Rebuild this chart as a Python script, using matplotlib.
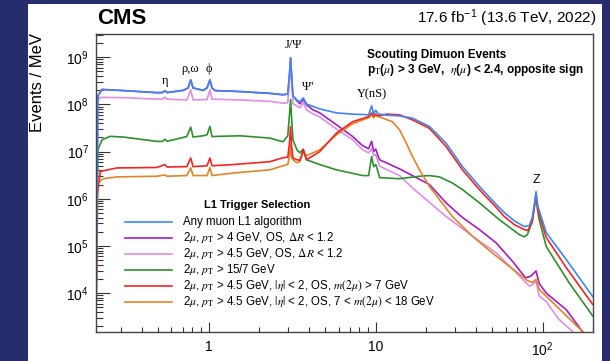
import numpy as np
import matplotlib.pyplot as plt
from matplotlib.patches import Rectangle
from matplotlib.ticker import LogLocator, NullFormatter, FixedLocator, FixedFormatter

plt.rcParams['font.family'] = ['Liberation Sans', 'DejaVu Sans']
plt.rcParams['mathtext.fontset'] = 'stix'

# dimuon mass (GeV) and events / MeV
# any muon L1 algorithm
mass_any = [0.2113, 0.2175, 0.230, 0.309, 0.491, 0.528, 0.548, 0.565, 0.704, 0.755,
            0.782, 0.808, 0.927, 0.979, 1.019, 1.049, 1.093, 1.54, 2.33, 2.79,
            2.98, 3.05, 3.097, 3.14, 3.20, 3.38, 3.52, 3.686, 3.86, 4.63,
            5.83, 7.29, 8.36, 9.08, 9.46, 9.73, 10.02, 10.35, 11.6, 13.9,
            16.6, 21.0, 26.4, 33.1, 41.8, 52.8, 58.9, 67.6, 77.5, 83.1,
            86.6, 89.0, 91.2, 93.5, 95.3, 105, 138, 199]
ev_any = [1e3, 1.51e8, 2.07e8, 1.96e8, 1.77e8, 1.78e8, 1.93e8, 1.78e8, 1.98e8, 2.23e8,
          3.3e8, 2.23e8, 1.98e8, 2.23e8, 3.3e8, 2.23e8, 1.96e8, 1.87e8, 1.71e8, 1.6e8,
          1.65e8, 4.2e8, 9.6e8, 4.2e8, 1.5e8, 1.24e8, 1.13e8, 1.37e8, 1.02e8, 8.0e7,
          6.6e7, 6.2e7, 6.1e7, 6.0e7, 9.3e7, 6.3e7, 7.5e7, 6.3e7, 5.9e7, 5.7e7,
          5.1e7, 3.4e7, 1.51e7, 4.8e6, 1.83e6, 7.5e5, 5.1e5, 3.4e5, 2.57e5, 2.7e5,
          4.0e5, 7.5e5, 1.41e6, 7.0e5, 5.6e5, 1.92e5, 5.2e4, 8.5e3]

# 2mu pT>4, OS, dR<1.2 (same as "any" below 3.2 GeV)
mass_os4 = mass_any[:25] + [3.38, 3.52, 3.686, 3.86, 4.21, 4.63, 5.83, 7.29, 8.36, 9.08,
                            9.46, 9.73, 10.02, 10.35, 10.56, 13.9, 16.6, 21.0, 26.4, 33.1,
                            41.8, 52.8, 66.0, 79.0, 85.0, 91.2, 95.3, 105, 138, 172, 199]
ev_os4 = ev_any[:25] + [1.19e8, 1.03e8, 1.27e8, 9.8e7, 7.7e7, 6.6e7, 3.7e7, 2.08e7, 1.33e7, 1.15e7,
                        1.65e7, 1.0e7, 1.13e7, 7.9e6, 6.7e6, 4.3e6, 3.1e6, 2.0e6, 8.2e5, 4.0e5,
                        2.22e5, 1.15e5, 4.7e4, 2.1e4, 2.3e4, 2.94e4, 1.6e4, 1.0e4, 4.5e3, 1.57e3, 8.6e2]

# 2mu pT>4.5, OS, dR<1.2
mass_os45 = [0.2113, 0.2175, 0.225, 0.309, 0.491, 0.528, 0.548, 0.565, 0.741, 0.782,
             0.808, 0.979, 1.019, 1.049, 1.54, 2.33, 2.79, 2.98, 3.05, 3.097,
             3.14, 3.20, 3.38, 3.52, 3.686, 3.86, 4.21, 4.63, 5.83, 7.29,
             8.36, 9.08, 9.46, 9.73, 10.02, 10.56, 13.9, 16.6, 26.4, 41.8,
             52.8, 68.0, 83.1, 86.6, 91.2, 95.3, 105, 125, 150, 199]
ev_os45 = [1e3, 1.19e8, 1.41e8, 1.39e8, 1.29e8, 1.29e8, 1.42e8, 1.29e8, 1.24e8, 2.02e8,
           1.24e8, 1.27e8, 2.02e8, 1.29e8, 1.24e8, 1.16e8, 1.06e8, 1.08e8, 3.3e8, 7.9e8,
           3.3e8, 1.03e8, 9.3e7, 8.4e7, 1.09e8, 7.7e7, 6.3e7, 5.4e7, 3.0e7, 1.78e7,
           1.09e7, 9.4e6, 1.15e7, 8.2e6, 8.6e6, 4.9e6, 3.1e6, 1.7e6, 4.2e5, 1.26e5,
           7.1e4, 2.9e4, 1.41e4, 1.5e4, 1.8e4, 8.7e3, 6.6e3, 2.77e3, 1.57e3, 5e2]

# 2mu pT>15/7
mass_157 = [0.2113, 0.2175, 0.2304, 0.258, 0.309, 0.491, 0.528, 0.548, 0.565, 0.741,
            0.782, 0.808, 0.927, 0.979, 1.019, 1.049, 1.54, 2.33, 2.79, 2.98,
            3.05, 3.097, 3.14, 3.20, 3.38, 3.52, 3.686, 3.86, 4.63, 5.83,
            8.36, 9.08, 9.46, 9.73, 10.02, 10.35, 10.56, 13.9, 18.3, 21.0,
            24.1, 28.8, 33.1, 41.8, 55.0, 72.4, 77.5, 81.0, 86.6, 89.0,
            91.2, 93.5, 95.3, 105, 144, 199]
ev_157 = [1e3, 1.09e7, 1.78e7, 2.1e7, 2.03e7, 1.64e7, 1.64e7, 1.82e7, 1.65e7, 2.08e7,
          3.3e7, 2.03e7, 2.16e7, 2.26e7, 3.4e7, 2.08e7, 2.16e7, 1.93e7, 1.61e7, 2.16e7,
          6.0e7, 1.27e8, 5.2e7, 1.78e7, 1.09e7, 9.4e6, 1.13e7, 6.7e6, 5.3e6, 4.1e6,
          3.1e6, 3.1e6, 7.8e6, 4.8e6, 5.3e6, 3.7e6, 2.8e6, 2.66e6, 3.0e6, 3.1e6,
          2.9e6, 2.16e6, 1.56e6, 8.2e5, 3.6e5, 1.74e5, 1.56e5, 1.74e5, 3.3e5, 6.5e5,
          1.12e6, 5.3e5, 3.6e5, 9.7e4, 1.65e4, 3.3e3]

# 2mu pT>4.5, |eta|<2, OS, m>7
mass_m7 = [0.2113, 0.215, 0.225, 0.283, 0.491, 0.548, 0.565, 0.741, 0.782, 0.808,
           0.979, 1.019, 1.049, 1.40, 2.33, 2.79, 2.98, 3.05, 3.097, 3.14,
           3.20, 3.38, 3.52, 3.686, 3.86, 4.63, 5.83, 7.29, 9.08, 9.46,
           9.73, 10.02, 10.35, 11.6, 13.9, 16.6, 21.0, 26.4, 33.1, 41.8,
           52.8, 58.9, 67.6, 77.5, 81.5, 86.6, 89.0, 91.2, 93.5, 95.3,
           105, 138, 199]
ev_m7 = [1e3, 1.13e6, 3.8e6, 4.5e6, 4.6e6, 5.3e6, 4.7e6, 4.8e6, 7.3e6, 4.8e6,
         5.0e6, 7.3e6, 5.0e6, 5.3e6, 6.1e6, 7.4e6, 7.6e6, 1.5e7, 3.4e7, 1.3e7,
         7.3e6, 6.7e6, 6.5e6, 1.09e7, 6.7e6, 1.0e7, 2.46e7, 4.3e7, 5.5e7, 6.6e7,
         5.7e7, 6.2e7, 5.7e7, 6.2e7, 6.0e7, 4.7e7, 3.1e7, 1.28e7, 4.1e6, 1.56e6,
         6.5e5, 4.2e5, 2.83e5, 2.22e5, 2.12e5, 3.3e5, 6.5e5, 1.22e6, 5.9e5, 4.6e5,
         1.51e5, 3.5e4, 5.8e3]

# 2mu pT>4.5, |eta|<2, OS, 7<m<18
mass_718 = [0.2113, 0.2175, 0.2345, 0.283, 0.491, 0.548, 0.565, 0.741, 0.782, 0.808,
            0.979, 1.019, 1.049, 1.40, 2.33, 2.79, 2.98, 3.05, 3.097, 3.14,
            3.20, 3.38, 3.52, 3.686, 3.86, 4.63, 5.83, 7.29, 9.08, 9.46,
            9.73, 10.02, 10.56, 12.6, 13.9, 15.25, 16.6, 18.3, 21.0, 24.1,
            28.8, 38.0, 49.9, 80.8, 86.6, 91.2, 95.3, 172, 199]
ev_718 = [1e3, 2.19e6, 2.66e6, 2.9e6, 3.0e6, 3.2e6, 3.0e6, 3.1e6, 4.5e6, 3.1e6,
          3.1e6, 4.6e6, 3.1e6, 3.5e6, 4.1e6, 5.0e6, 5.3e6, 8.0e6, 1.39e7, 7.5e6,
          6.7e6, 5.8e6, 6.1e6, 1.0e7, 8.2e6, 1.09e7, 2.26e7, 3.9e7, 5.2e7, 6.0e7,
          5.2e7, 5.7e7, 5.4e7, 4.3e7, 2.9e7, 1.51e7, 7.9e6, 4.1e6, 1.83e6, 9.6e5,
          4.2e5, 1.6e5, 7.1e4, 1.85e4, 1.68e4, 1.95e4, 1.2e4, 1.57e3, 7e2]

labels = ['Any muon L1 algorithm',
          r'2$\mu$, $p_{\rm T}$ > 4 GeV, OS, $\Delta R$ < 1.2',
          r'2$\mu$, $p_{\rm T}$ > 4.5 GeV, OS, $\Delta R$ < 1.2',
          r'2$\mu$, $p_{\rm T}$ > 15/7 GeV',
          r'2$\mu$, $p_{\rm T}$ > 4.5 GeV, $|\eta|$ < 2, OS, $m(2\mu)$ > 7 GeV',
          r'2$\mu$, $p_{\rm T}$ > 4.5 GeV, $|\eta|$ < 2, OS, 7 < $m(2\mu)$ < 18 GeV']
colors = ['#3f86f5', '#a31fbf', '#e08de6', '#2f8f2f', '#f52424', '#e0852c']

fig = plt.figure(figsize=(6.10, 3.61), dpi=100)
fig.patch.set_facecolor('#272c6c')
fig.patches.append(Rectangle((28/610, 0), 574/610, 357/361, transform=fig.transFigure,
                             facecolor='white', edgecolor='none', zorder=-1))

ax = fig.add_axes([96/610, 29/361, 497/610, 298/361])

curves = [(mass_os4, ev_os4), (mass_os45, ev_os45), (mass_157, ev_157),
          (mass_718, ev_718), (mass_m7, ev_m7), (mass_any, ev_any)]
order = [1, 2, 3, 5, 4, 0]
for (m, ev), i in zip(curves, order):
    ax.plot(m, ev, color=colors[i], lw=1.2)

ax.set_xscale('log')
ax.set_yscale('log')
ax.set_xlim(0.212, 200)
ax.set_ylim(1.5e3, 3.1e9)

ax.xaxis.set_major_locator(FixedLocator([1, 10, 100]))
ax.xaxis.set_major_formatter(FixedFormatter(['1', '10', r'$\mathregular{10^2}$']))
ax.xaxis.set_minor_locator(LogLocator(subs=np.arange(2, 10), numticks=20))
ax.xaxis.set_minor_formatter(NullFormatter())
ax.yaxis.set_major_locator(FixedLocator([1e4, 1e5, 1e6, 1e7, 1e8, 1e9]))
ax.yaxis.set_minor_locator(LogLocator(subs=np.arange(2, 10), numticks=20))
ax.yaxis.set_minor_formatter(NullFormatter())
ax.yaxis.set_major_formatter(FixedFormatter([r'$\mathregular{10^%d}$' % p for p in range(4, 10)]))

ax.tick_params(which='both', direction='in', top=False, right=False, width=0.8,
               color='#333333', labelsize=10)
ax.tick_params(axis='y', which='major', length=10, pad=5)
ax.tick_params(axis='y', which='minor', length=5)
ax.tick_params(axis='x', which='major', length=7, pad=6)
ax.tick_params(axis='x', which='minor', length=3.5)
for s in ax.spines.values():
    s.set_color('#444444')
    s.set_linewidth(1.0)

fig.text(37/610, 1-82/361, 'Events / MeV', rotation=90, ha='center', va='center', fontsize=12)
fig.text(97/610, 1-18/361, 'CMS', fontsize=16, fontweight='bold', ha='left', va='center')
fig.text(597/610, 1-18/361, r'17.6 fb$^{\mathregular{-1}}$ (13.6 TeV, 2022)',
         fontsize=11, ha='right', va='center')

ax.text(0.545, 0.93, 'Scouting Dimuon Events', transform=ax.transAxes,
        fontsize=8.5, fontweight='bold', ha='left', va='center')
ax.text(0.545, 0.88, r'p$_{\rm T}$($\mu$) > 3 GeV,  $\eta$($\mu$) < 2.4, opposite sign',
        transform=ax.transAxes, fontsize=8.5, fontweight='bold', ha='left', va='center')

greek = ['Liberation Serif', 'DejaVu Serif']
ax.text(0.547, 3.1e8, 'η', family=greek, fontsize=9, ha='center', va='center')
ax.text(0.776, 5.6e8, 'ρ,ω', family=greek, fontsize=9, ha='center', va='center')
ax.text(1.01, 5.6e8, 'ϕ', family=greek, fontsize=9, ha='center', va='center')
ax.text(3.2, 1.8e9, 'J/Ψ', family=greek, fontsize=9, ha='center', va='center')
ax.text(3.9, 2.3e8, "Ψ'", family=greek, fontsize=9, ha='center', va='center')
ax.text(9.5, 1.6e8, 'Υ(nS)', family=greek, fontsize=9, ha='center', va='center')
ax.text(91.5, 2.5e6, 'Z', fontsize=9, ha='center', va='center')

# legend
fig.text(257/610, 1-205/361, 'L1 Trigger Selection', fontsize=8, fontweight='bold',
         ha='center', va='center')
for k, (lab, col) in enumerate(zip(labels, colors)):
    yy = 1 - (221.7 + 16*k)/361
    fig.add_artist(plt.Line2D([125/610, 172/610], [yy, yy], color=col, lw=1.2,
                              transform=fig.transFigure))
    fig.text(183/610, yy, lab, fontsize=8.3, ha='left', va='center')

fig.savefig('out.png', dpi=100, facecolor=fig.get_facecolor())
